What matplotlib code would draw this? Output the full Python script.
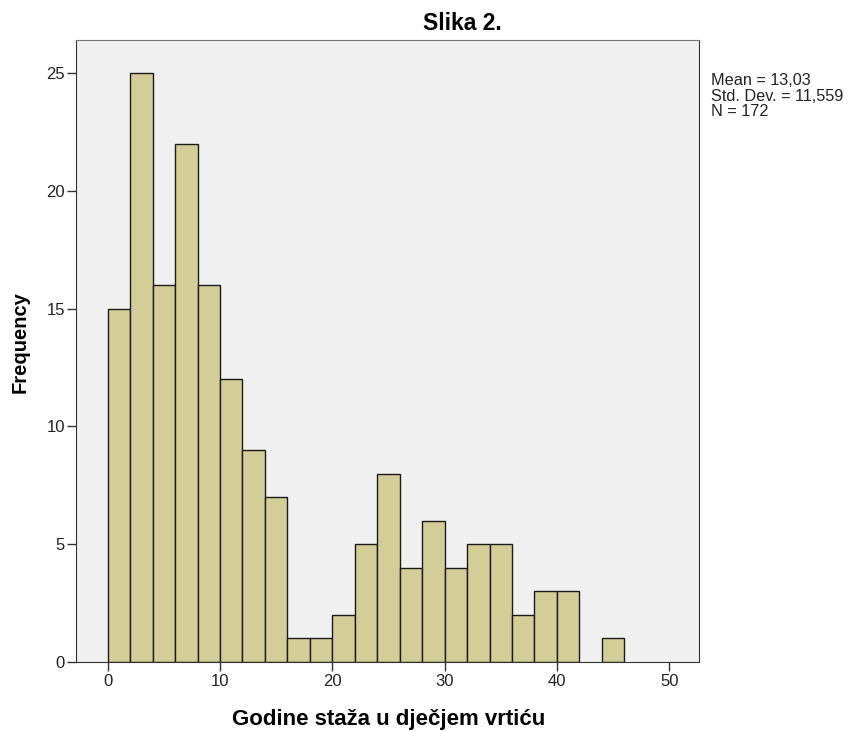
import numpy as np
import matplotlib.pyplot as plt

plt.rcParams['font.family'] = ['Liberation Sans', 'DejaVu Sans']

# histogram bins (width 2 years) and counts
bin_edges = np.arange(0, 48, 2)
counts = [15, 25, 16, 22, 16, 12, 9, 7, 1, 1, 2, 5, 8, 4, 6, 4, 5, 5, 2, 3, 3, 0, 1]
x_ticks = [0, 10, 20, 30, 40, 50]
y_ticks = [0, 5, 10, 15, 20, 25]
stats_text = "Mean = 13,03\nStd. Dev. = 11,559\nN = 172"

W, H = 848, 731
fig = plt.figure(figsize=(W / 100, H / 100), dpi=100)
# axes box in pixels: left 76, right 699, top 40, bottom 662
ax = fig.add_axes([76 / W, 1 - 662 / H, (699 - 76) / W, (662 - 40) / H])
ax.set_facecolor('#f0f0f0')

lefts = bin_edges[:-1]
heights = np.array(counts)
mask = heights > 0
ax.bar(lefts[mask], heights[mask], width=2, align='edge',
       color='#d3ce97', edgecolor='#1a1a1a', linewidth=1.0, zorder=2)

ax.set_xlim(-2.82, 52.65)
ax.set_ylim(0, 26.4)
ax.set_xticks(x_ticks)
ax.set_yticks(y_ticks)
ax.tick_params(axis='both', labelsize=12, length=6.5, width=1, color='#333333',
               labelcolor='#222222')
ax.tick_params(axis='x', pad=2.5)
ax.tick_params(axis='y', pad=1.5)

for s in ['left', 'right', 'bottom']:
    ax.spines[s].set_color('#333333')
ax.spines['top'].set_color('#777777')

fig.text(20 / W, 1 - 342 / H, 'Frequency', rotation=90, ha='center',
         va='center', fontsize=14.5, fontweight='bold')
fig.text(389 / W, 1 - 719 / H, 'Godine staža u dječjem vrtiću',
         ha='center', va='center', fontsize=16, fontweight='bold')

fig.text(462 / W, 1 - 23 / H, 'Slika 2.', ha='center', va='center',
         fontsize=16.5, fontweight='bold')
fig.text(711 / W, 1 - 73 / H, stats_text, ha='left', va='top',
         fontsize=11.7, linespacing=1.05, color='#222222')

fig.savefig('out.png', dpi=100)
